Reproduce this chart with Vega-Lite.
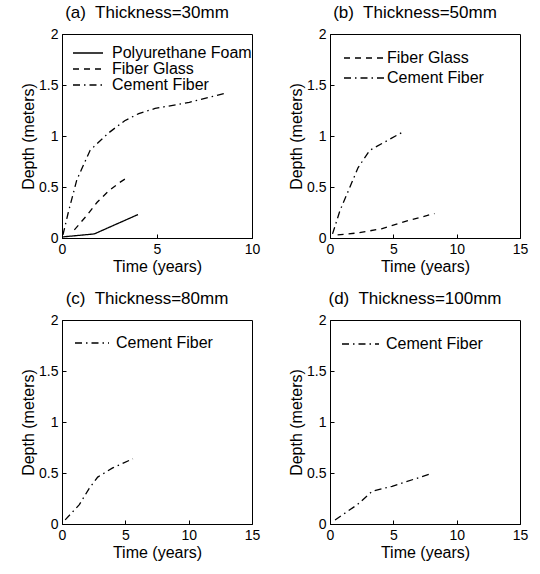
{
  "$schema": "https://vega.github.io/schema/vega-lite/v6.json",
  "background": "white",
  "padding": {"left": 20, "top": 3, "right": 5, "bottom": 5},
  "data": {"values": [
    {"panel": "a", "material": "Polyurethane Foam", "time": 0, "depth": 0.01},
    {"panel": "a", "material": "Polyurethane Foam", "time": 1.7, "depth": 0.04},
    {"panel": "a", "material": "Polyurethane Foam", "time": 4.0, "depth": 0.23},
    {"panel": "a", "material": "Fiber Glass", "time": 0.65, "depth": 0.08},
    {"panel": "a", "material": "Fiber Glass", "time": 1.3, "depth": 0.22},
    {"panel": "a", "material": "Fiber Glass", "time": 1.85, "depth": 0.35},
    {"panel": "a", "material": "Fiber Glass", "time": 2.45, "depth": 0.46},
    {"panel": "a", "material": "Fiber Glass", "time": 3.0, "depth": 0.54},
    {"panel": "a", "material": "Fiber Glass", "time": 3.5, "depth": 0.6},
    {"panel": "a", "material": "Cement Fiber", "time": 0.05, "depth": 0.03},
    {"panel": "a", "material": "Cement Fiber", "time": 0.33, "depth": 0.25},
    {"panel": "a", "material": "Cement Fiber", "time": 0.78, "depth": 0.57},
    {"panel": "a", "material": "Cement Fiber", "time": 1.48, "depth": 0.86},
    {"panel": "a", "material": "Cement Fiber", "time": 2.45, "depth": 1.03},
    {"panel": "a", "material": "Cement Fiber", "time": 3.3, "depth": 1.15},
    {"panel": "a", "material": "Cement Fiber", "time": 4.04, "depth": 1.22},
    {"panel": "a", "material": "Cement Fiber", "time": 4.9, "depth": 1.27},
    {"panel": "a", "material": "Cement Fiber", "time": 6.7, "depth": 1.33},
    {"panel": "a", "material": "Cement Fiber", "time": 8.6, "depth": 1.42},
    {"panel": "b", "material": "Fiber Glass", "time": 0.6, "depth": 0.03},
    {"panel": "b", "material": "Fiber Glass", "time": 2.2, "depth": 0.05},
    {"panel": "b", "material": "Fiber Glass", "time": 4.06, "depth": 0.09},
    {"panel": "b", "material": "Fiber Glass", "time": 6.15, "depth": 0.17},
    {"panel": "b", "material": "Fiber Glass", "time": 8.25, "depth": 0.24},
    {"panel": "b", "material": "Cement Fiber", "time": 0.2, "depth": 0.04},
    {"panel": "b", "material": "Cement Fiber", "time": 0.79, "depth": 0.27},
    {"panel": "b", "material": "Cement Fiber", "time": 1.44, "depth": 0.46},
    {"panel": "b", "material": "Cement Fiber", "time": 2.22, "depth": 0.69},
    {"panel": "b", "material": "Cement Fiber", "time": 3.14, "depth": 0.86},
    {"panel": "b", "material": "Cement Fiber", "time": 4.3, "depth": 0.94},
    {"panel": "b", "material": "Cement Fiber", "time": 5.76, "depth": 1.04},
    {"panel": "c", "material": "Cement Fiber", "time": 0.25, "depth": 0.04},
    {"panel": "c", "material": "Cement Fiber", "time": 1.37, "depth": 0.19},
    {"panel": "c", "material": "Cement Fiber", "time": 2.15, "depth": 0.35},
    {"panel": "c", "material": "Cement Fiber", "time": 2.82, "depth": 0.46},
    {"panel": "c", "material": "Cement Fiber", "time": 4.0, "depth": 0.55},
    {"panel": "c", "material": "Cement Fiber", "time": 5.6, "depth": 0.64},
    {"panel": "d", "material": "Cement Fiber", "time": 0.4, "depth": 0.04},
    {"panel": "d", "material": "Cement Fiber", "time": 2.16, "depth": 0.19},
    {"panel": "d", "material": "Cement Fiber", "time": 3.33, "depth": 0.32},
    {"panel": "d", "material": "Cement Fiber", "time": 4.9, "depth": 0.37},
    {"panel": "d", "material": "Cement Fiber", "time": 7.9, "depth": 0.49}
  ]},
  "columns": 2,
  "spacing": {"row": 14, "column": 27},
  "resolve": {
    "scale": {"x": "independent", "y": "independent", "strokeDash": "independent"},
    "legend": {"strokeDash": "independent"}
  },
  "concat": [
    {
      "title": "(a)\u00a0 Thickness=30mm",
      "width": 190, "height": 204,
      "transform": [{"filter": "datum.panel === 'a'"}],
      "mark": {"type": "line", "color": "black", "strokeWidth": 1.3},
      "encoding": {
        "x": {"field": "time", "type": "quantitative", "scale": {"domain": [0, 10], "nice": false}, "axis": {"title": "Time (years)", "values": [0, 5, 10], "format": "~r"}},
        "y": {"field": "depth", "type": "quantitative", "scale": {"domain": [0, 2], "nice": false}, "axis": {"title": "Depth (meters)", "values": [0, 0.5, 1, 1.5, 2], "format": "~r"}},
        "strokeDash": {"field": "material", "type": "nominal",
          "scale": {"domain": ["Polyurethane Foam", "Fiber Glass", "Cement Fiber"], "range": [[1, 0], [6, 5], [7, 4, 1.5, 4]]},
          "legend": {"orient": "none", "legendX": 10, "legendY": 11, "symbolSize": 900, "labelOffset": 8, "clipHeight": 16}}
      }
    },
    {
      "title": "(b)\u00a0 Thickness=50mm",
      "width": 190, "height": 204,
      "transform": [{"filter": "datum.panel === 'b'"}],
      "mark": {"type": "line", "color": "black", "strokeWidth": 1.3},
      "encoding": {
        "x": {"field": "time", "type": "quantitative", "scale": {"domain": [0, 15], "nice": false}, "axis": {"title": "Time (years)", "values": [0, 5, 10, 15], "format": "~r"}},
        "y": {"field": "depth", "type": "quantitative", "scale": {"domain": [0, 2], "nice": false}, "axis": {"title": "Depth (meters)", "values": [0, 0.5, 1, 1.5, 2], "format": "~r"}},
        "strokeDash": {"field": "material", "type": "nominal",
          "scale": {"domain": ["Fiber Glass", "Cement Fiber"], "range": [[6, 5], [7, 4, 1.5, 4]]},
          "legend": {"orient": "none", "legendX": 13, "legendY": 14, "symbolSize": 1600, "labelOffset": 2, "clipHeight": 20}}
      }
    },
    {
      "title": "(c)\u00a0 Thickness=80mm",
      "width": 190, "height": 204,
      "transform": [{"filter": "datum.panel === 'c'"}],
      "mark": {"type": "line", "color": "black", "strokeWidth": 1.3},
      "encoding": {
        "x": {"field": "time", "type": "quantitative", "scale": {"domain": [0, 15], "nice": false}, "axis": {"title": "Time (years)", "values": [0, 5, 10, 15], "format": "~r"}},
        "y": {"field": "depth", "type": "quantitative", "scale": {"domain": [0, 2], "nice": false}, "axis": {"title": "Depth (meters)", "values": [0, 0.5, 1, 1.5, 2], "format": "~r"}},
        "strokeDash": {"field": "material", "type": "nominal",
          "scale": {"domain": ["Cement Fiber"], "range": [[7, 4, 1.5, 4]]},
          "legend": {"orient": "none", "legendX": 12, "legendY": 13, "symbolSize": 1156, "labelOffset": 6, "clipHeight": 20}}
      }
    },
    {
      "title": "(d)\u00a0 Thickness=100mm",
      "width": 190, "height": 204,
      "transform": [{"filter": "datum.panel === 'd'"}],
      "mark": {"type": "line", "color": "black", "strokeWidth": 1.3},
      "encoding": {
        "x": {"field": "time", "type": "quantitative", "scale": {"domain": [0, 15], "nice": false}, "axis": {"title": "Time (years)", "values": [0, 5, 10, 15], "format": "~r"}},
        "y": {"field": "depth", "type": "quantitative", "scale": {"domain": [0, 2], "nice": false}, "axis": {"title": "Depth (meters)", "values": [0, 0.5, 1, 1.5, 2], "format": "~r"}},
        "strokeDash": {"field": "material", "type": "nominal",
          "scale": {"domain": ["Cement Fiber"], "range": [[7, 4, 1.5, 4]]},
          "legend": {"orient": "none", "legendX": 11, "legendY": 14, "symbolSize": 1369, "labelOffset": 6, "clipHeight": 20}}
      }
    }
  ],
  "config": {
    "view": {"stroke": "black", "strokeWidth": 1},
    "axis": {
      "grid": false, "domainColor": "black", "tickColor": "black", "labelColor": "black", "titleColor": "black",
      "labelFont": "Liberation Sans", "titleFont": "Liberation Sans", "labelFontSize": 14, "titleFontSize": 16,
      "titleFontWeight": "normal", "tickSize": -4, "labelPadding": 8, "labelFlush": false, "titlePadding": 2
    },
    "title": {"font": "Liberation Sans", "fontSize": 17, "fontWeight": "normal", "color": "black", "offset": 5, "anchor": "middle", "dx": -10},
    "legend": {
      "title": null, "labelFont": "Liberation Sans", "labelFontSize": 16, "labelColor": "black",
      "symbolType": "stroke", "symbolStrokeColor": "black", "symbolStrokeWidth": 1.3, "rowPadding": 0, "padding": 0
    }
  }
}
